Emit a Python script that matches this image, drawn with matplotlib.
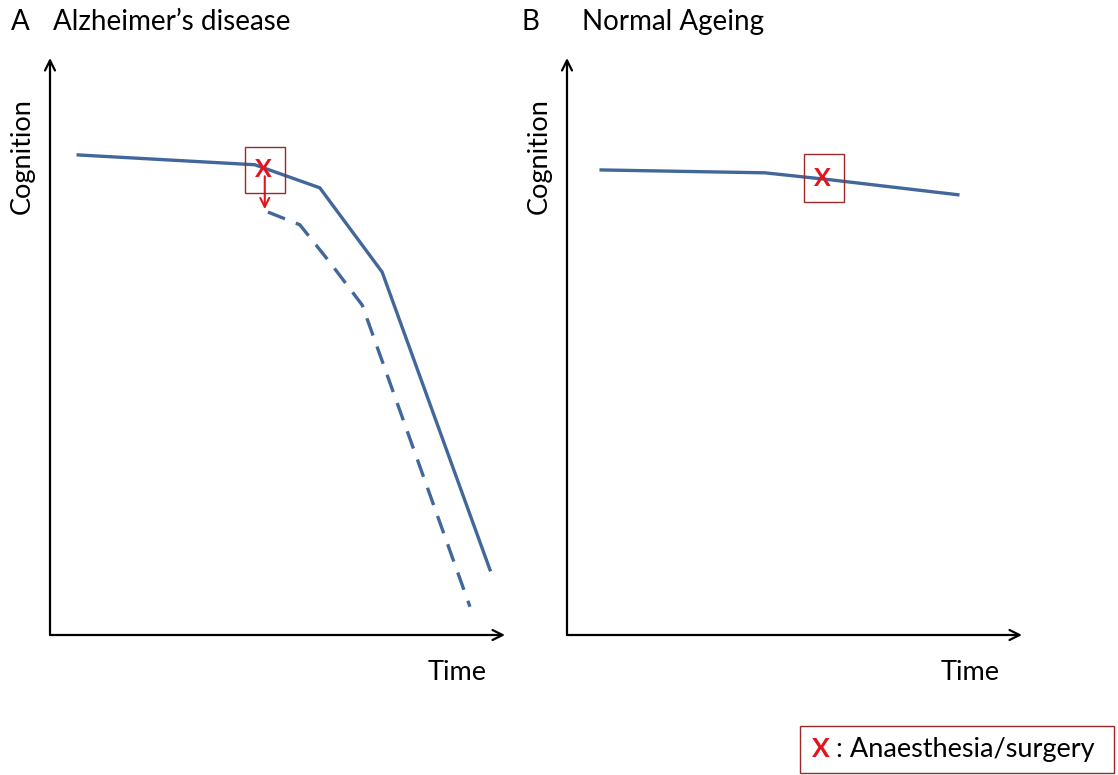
import numpy as np
import matplotlib.pyplot as plt
from matplotlib.patches import Rectangle

#DATA - SCHEMATIC CURVES (TIME 0-100, COGNITION 0-100)
ad_time = [6.2, 45.0, 59.3, 73.0, 96.7]
ad_cog = [83.2, 81.5, 77.5, 62.9, 11.3]
ad_post_time = [47.9, 54.9, 61.5, 68.6, 92.3]
ad_post_cog = [73.3, 71.1, 64.6, 57.2, 4.9]
na_time = [7.5, 43.5, 57.8, 85.9]
na_cog = [80.6, 80.1, 78.9, 76.3]
#EVENT (ANAESTHESIA/SURGERY) POSITIONS
ad_event = (47.2, 80.6)
na_event = (56.5, 79.2)

panel_letters = ["A", "B"]
panel_titles = ["Alzheimer\u2019s disease", "Normal Ageing"]

line_col = "#42679B"
red = "#E3141B"
box_col = "#9A2A2A"
font = "Lato"

fig = plt.figure(figsize=(11.18, 7.75), dpi=100)

def setup_axis(ax, time_x):
    ax.set_xlim(0, 100)
    ax.set_ylim(0, 100)
    ax.axis("off")
    #ARROW AXES
    ax.annotate("", xy=(0, 1.0), xytext=(0, 0), xycoords="axes fraction",
                arrowprops=dict(arrowstyle="->", lw=1.6, color="black",
                                mutation_scale=18, shrinkA=0, shrinkB=0))
    ax.annotate("", xy=(1.0, 0), xytext=(0, 0), xycoords="axes fraction",
                arrowprops=dict(arrowstyle="->", lw=1.6, color="black",
                                mutation_scale=18, shrinkA=0, shrinkB=0))
    ax.text(-0.06, 0.83, "Cognition", transform=ax.transAxes, rotation=90,
            ha="center", va="center", fontsize=19.5, family=font)
    ax.text(time_x, -0.065, "Time", transform=ax.transAxes,
            ha="center", va="center", fontsize=19.5, family=font)

def event_box(ax, xy, w=8.8, h=8.0):
    ax.add_patch(Rectangle((xy[0] - w / 2, xy[1] - h / 2), w, h, fill=False,
                           ec=box_col, lw=1.0, zorder=4))
    ax.text(xy[0] - 0.3, xy[1], "X", color=red, fontsize=18, fontweight="bold",
            ha="center", va="center", family=font, zorder=5)

#PANEL A
axA = fig.add_axes([50 / 1118, 140 / 775, 455 / 1118, 577 / 775])
setup_axis(axA, 0.895)
axA.plot(ad_time, ad_cog, color=line_col, lw=2.4, solid_joinstyle="miter")
axA.plot(ad_post_time, ad_post_cog, color=line_col, lw=2.4, ls=(0, (5.5, 3.5)))
event_box(axA, ad_event)
axA.annotate("", xy=(ad_event[0], 73.8), xytext=(ad_event[0], 79.5),
             arrowprops=dict(arrowstyle="->", color=red, lw=1.5,
                             mutation_scale=16, shrinkA=0, shrinkB=0))

#PANEL B
axB = fig.add_axes([567 / 1118, 140 / 775, 455 / 1118, 577 / 775])
setup_axis(axB, 0.886)
axB.plot(na_time, na_cog, color=line_col, lw=2.4)
event_box(axB, na_event, w=8.8, h=8.3)

#PANEL TITLES
for x_l, x_t, letter, title in [(20, 53, panel_letters[0], panel_titles[0]),
                                (530, 582, panel_letters[1], panel_titles[1])]:
    fig.text(x_l / 1118, 1 - 22 / 775, letter, fontsize=20, family=font,
             ha="center", va="center")
    fig.text(x_t / 1118, 1 - 22 / 775, title, fontsize=20, family=font,
             ha="left", va="center")

#LEGEND BOX
fig.patches.append(Rectangle((800 / 1118, 2 / 775), 314 / 1118, 47 / 775,
                             transform=fig.transFigure, fill=False,
                             ec=box_col, lw=1.0))
fig.text(812 / 1118, 1 - 749 / 775, "X", color=red, fontsize=19,
         fontweight="bold", family=font, ha="left", va="center")
fig.text(836 / 1118, 1 - 749 / 775, ": Anaesthesia/surgery", fontsize=19.5,
         family=font, ha="left", va="center")

fig.savefig("out.png", dpi=100)
